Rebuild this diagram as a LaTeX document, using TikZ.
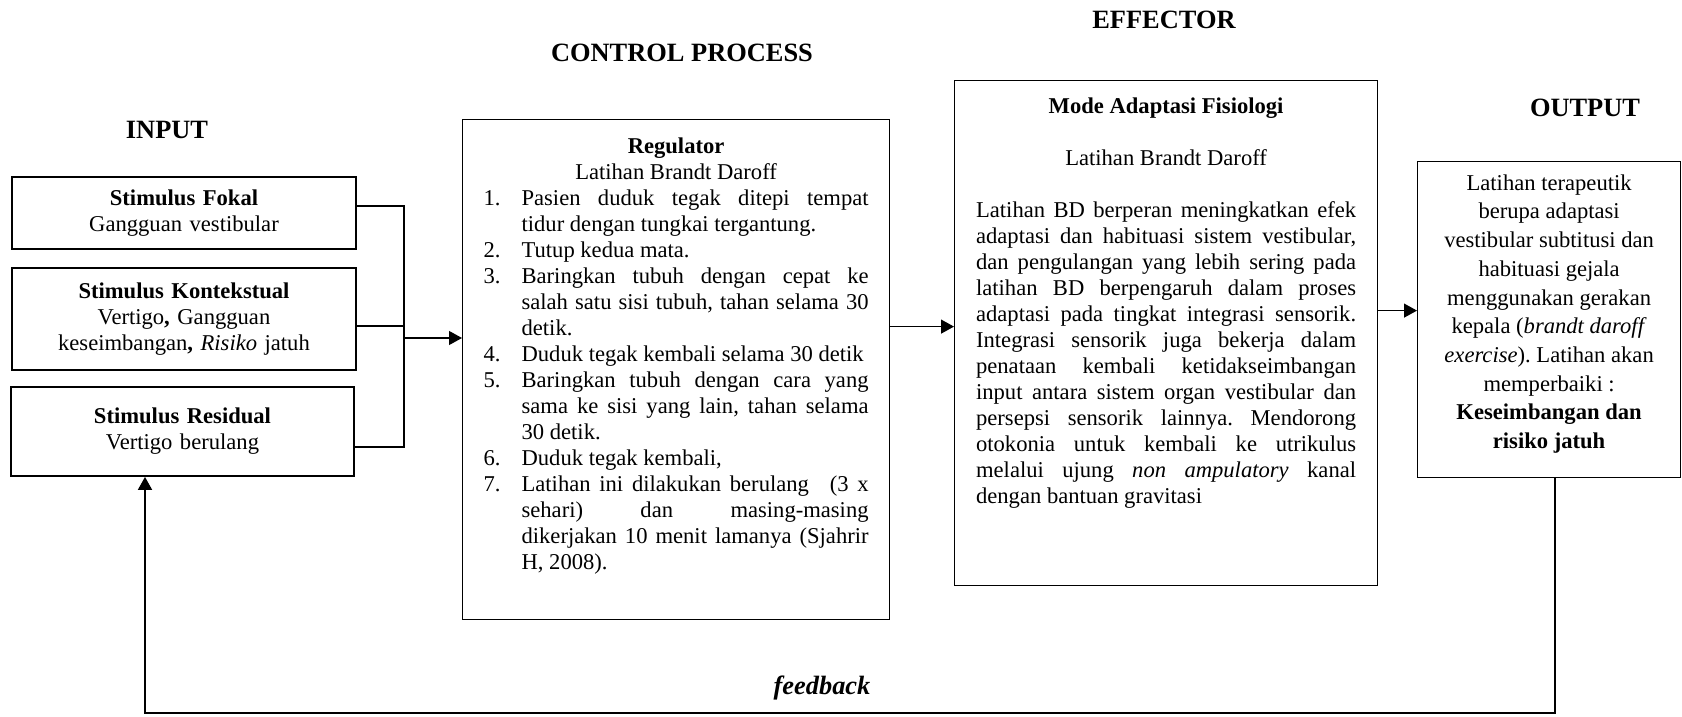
\documentclass[tikz,border=0pt]{standalone}
\usepackage{fontspec}
\setmainfont{Liberation Serif}
\usepackage{enumitem}
\usetikzlibrary{arrows.meta,calc}

\hyphenpenalty=10000
\exhyphenpenalty=10000
\frenchspacing
\newcommand{\bodyfont}{\fontsize{11.3}{13}\selectfont}

\tikzset{
  box/.style={draw, line width=0.6pt, inner xsep=10.5pt, inner ysep=9pt},
  inbox/.style={draw, line width=0.6pt, align=center, inner sep=0pt, text width=172pt, minimum width=172pt},
  title/.style={font=\fontsize{13.2}{15}\selectfont\bfseries, inner sep=0pt},
  link/.style={line width=0.6pt},
  arr/.style={line width=0.6pt, -{Triangle[length=6.5pt,width=7pt]}}
}

\begin{document}
\begin{tikzpicture}[x=0.5pt,y=0.5pt,yscale=-1,xscale=1,font=\bodyfont]
  \useasboundingbox (0,0) rectangle (1682,717);

  % Titles
  \node[title] (tinput) at (167,130) {INPUT};
  \node[title] (tcontrol) at (682,53) {CONTROL PROCESS};
  \node[title] (teffector) at (1164,20) {EFFECTOR};
  \node[title] (toutput) at (1585,108) {OUTPUT};

  %Input boxes
  \node[inbox, minimum height=36pt] (fokal) at (184,213) {\textbf{Stimulus Fokal}\\Gangguan vestibular};
  \node[inbox, minimum height=51pt] (kontekstual) at (184,319) {\textbf{Stimulus Kontekstual}\\Vertigo\textbf{,} Gangguan\\keseimbangan\textbf{,} \textit{Risiko} jatuh};
  \node[inbox, line width=0.9pt, text width=171.5pt, minimum width=171.5pt, minimum height=44.5pt] (residual) at (182.5,431.5) {\textbf{Stimulus Residual}\\Vertigo berulang};

  %Regulator
  \node[box, anchor=north west] (regulator) at (462,119) {\parbox[c][232pt][t]{192.5pt}{%
    {\centering\textbf{Regulator}\\Latihan Brandt Daroff\par}
    \begin{enumerate}[label=\arabic*., leftmargin=19pt, labelwidth=8.5pt, labelsep=10.5pt, align=left, nosep]
      \item Pasien duduk tegak ditepi tempat\linebreak tidur dengan tungkai tergantung.
      \item Tutup kedua mata.
      \item Baringkan tubuh dengan cepat ke\linebreak salah satu sisi tubuh, tahan selama 30\linebreak detik.
      \item Duduk tegak kembali selama 30 detik
      \item Baringkan tubuh dengan cara yang\linebreak sama ke sisi yang lain, tahan selama\linebreak 30 detik.
      \item Duduk tegak kembali,
      \item Latihan ini dilakukan berulang\hspace{6pt} (3 x\linebreak sehari) dan masing-masing\linebreak dikerjakan 10 menit lamanya (Sjahrir\linebreak H, 2008).
    \end{enumerate}}};

  %Effector
  \node[box, inner xsep=10.75pt, inner ysep=8.5pt, anchor=north west] (effector) at (954,80) {\parbox[c][235.5pt][t]{190pt}{%
    {\centering\textbf{Mode Adaptasi Fisiologi}\par\vspace{13pt}Latihan Brandt Daroff\par}\vspace{13pt}
    Latihan BD berperan meningkatkan efek\linebreak
    adaptasi dan habituasi sistem vestibular,\linebreak
    dan pengulangan yang lebih sering pada\linebreak
    latihan BD berpengaruh dalam proses\linebreak
    adaptasi pada tingkat integrasi sensorik.\linebreak
    Integrasi sensorik juga bekerja dalam\linebreak
    penataan kembali ketidakseimbangan\linebreak
    input antara sistem organ vestibular dan\linebreak
    persepsi sensorik lainnya. Mendorong\linebreak
    otokonia untuk kembali ke utrikulus\linebreak
    melalui ujung \textit{non ampulatory} kanal\linebreak
    dengan bantuan gravitasi}};

  %Output
  \node[box, inner ysep=6.5pt, anchor=north west] (output) at (1417,161) {\parbox[c][145pt][t]{110.5pt}{%
    \centering\fontsize{11.3}{14.35}\selectfont
    Latihan terapeutik\\berupa adaptasi\\vestibular subtitusi dan\\habituasi gejala\\menggunakan gerakan\\kepala (\textit{brandt daroff}\\\textit{exercise}). Latihan akan\\memperbaiki :\\\textbf{Keseimbangan dan}\\\textbf{risiko jatuh}}};

  %Straight Lines
  \coordinate (bus) at (404,338);
  \coordinate (fokalout) at ($(fokal.east)+(0,-7)$);
  \coordinate (kontout) at ($(kontekstual.east)+(0,7)$);
  \coordinate (residout) at ($(residual.east)+(0,15.5)$);
  \coordinate (effin) at ($(effector.west)+(0,-6.5)$);
  \coordinate (outin) at ($(output.west)+(0,-9)$);
  \draw[link] (fokalout) -| (bus);
  \draw[link] (residout) -| (bus);
  \draw[link] (kontout) -- (kontout -| bus);
  \draw[arr] (bus) -- (bus -| regulator.west);
  \draw[arr] (effin -| regulator.east) -- (effin);
  \draw[arr] (outin -| effector.east) -- (outin);

  %Feedback
  \coordinate (fb) at (822,713);
  \coordinate (fbstart) at ($(output.south)+(5.5,0)$);
  \coordinate (fbend) at ($(residual.south)+(-37.5,0)$);
  \draw[arr, line width=0.9pt] (fbstart) |- (fb) -| (fbend);
  \node[title, font=\fontsize{13.2}{15}\selectfont\bfseries\itshape] (fblabel) at (822,688) {feedback};

\end{tikzpicture}
\end{document}
